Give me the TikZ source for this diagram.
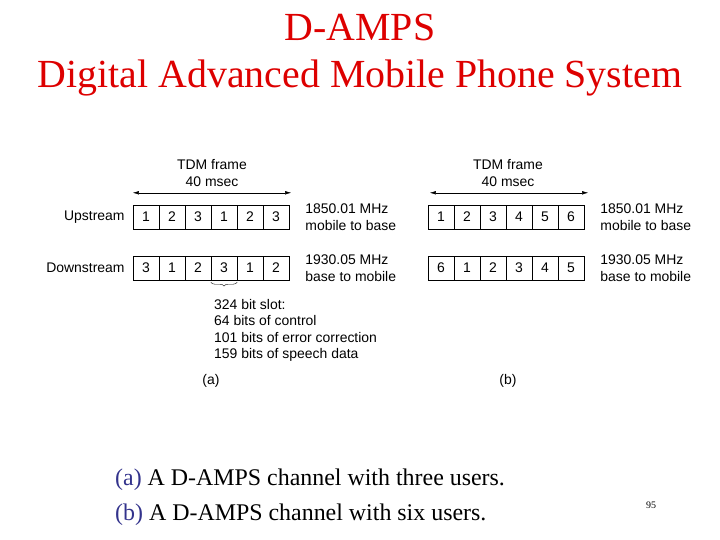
\documentclass[tikz,border=0pt]{standalone}
\usepackage{fontspec}
\setmainfont{Liberation Serif}
\setsansfont{Liberation Sans}
\usetikzlibrary{
  arrows.meta,
  positioning,
  decorations.pathreplacing
}
\definecolor{titlered}{RGB}{221,0,0}
\definecolor{capblue}{RGB}{51,51,140}

\begin{document}
\begin{tikzpicture}[x=1bp, y=-1bp,
    every node/.style={font=\sffamily\fontsize{14}{16.5}\selectfont, inner sep=1bp},
    slot/.style={draw, thin, minimum width=26bp, minimum height=24bp, inner sep=0pt}]
    \useasboundingbox (0,0) rectangle (720,540);

    % Title
    \node[font=\rmfamily\fontsize{40}{47}\selectfont, text=titlered, align=center] (title) at (360,55)
        {D-AMPS\\Digital Advanced Mobile Phone System};

    % (a) three users
    \foreach \lab [count=\i] in {1,2,3,1,2,3}
        \node[slot] (uA\i) at ({146+26*(\i-1)},217) {\lab};
    \foreach \lab [count=\i] in {3,1,2,3,1,2}
        \node[slot] (dA\i) at ({146+26*(\i-1)},268) {\lab};
    \node[left=7bp of uA1] (upA) {Upstream};
    \node[left=7bp of dA1] (downA) {Downstream};
    \node[right=15bp of uA6, align=left] (fuA) {1850.01 MHz\\mobile to base};
    \node[right=15bp of dA6, align=left] (fdA) {1930.05 MHz\\base to mobile};
    \coordinate (arAl) at ([yshift=12bp]uA1.north west);
    \coordinate (arAr) at ([yshift=12bp, xshift=2bp]uA6.north east);
    \draw[{Latex[length=6pt,width=3.5pt]}-{Latex[length=6pt,width=3.5pt]}] (arAl) -- (arAr);
    \node[align=center] (tdmA) at (212,173) {TDM frame\\40 msec};

    % slot brace
    \draw[decorate, decoration={brace, mirror, amplitude=4bp}] ([yshift=-2bp]dA4.south west) -- ([yshift=-2bp]dA4.south east);
    \node[anchor=north west, align=left] (slotA) at (213,298)
        {324 bit slot:\\64 bits of control\\101 bits of error correction\\159 bits of speech data};
    \node (labA) at (211,381) {(a)};

    % (b) six users
    \foreach \lab [count=\i] in {1,2,3,4,5,6}
        \node[slot] (uB\i) at ({441+26*(\i-1)},217) {\lab};
    \foreach \lab [count=\i] in {6,1,2,3,4,5}
        \node[slot] (dB\i) at ({441+26*(\i-1)},268) {\lab};
    \node[right=15bp of uB6, align=left] (fuB) {1850.01 MHz\\mobile to base};
    \node[right=15bp of dB6, align=left] (fdB) {1930.05 MHz\\base to mobile};
    \coordinate (arBl) at ([yshift=12bp, xshift=2bp]uB1.north west);
    \coordinate (arBr) at ([yshift=12bp, xshift=4bp]uB6.north east);
    \draw[{Latex[length=6pt,width=3.5pt]}-{Latex[length=6pt,width=3.5pt]}] (arBl) -- (arBr);
    \node[align=center] (tdmB) at (508,173) {TDM frame\\40 msec};
    \node (labB) at (508,381) {(b)};

    % Caption
    \node[anchor=base west, font=\rmfamily\fontsize{24}{28}\selectfont] (capA) at (114,485)
        {\textcolor{capblue}{(a)} A D-AMPS channel with three users.};
    \node[anchor=base west, font=\rmfamily\fontsize{24}{28}\selectfont] (capB) at (114,520)
        {\textcolor{capblue}{(b)} A D-AMPS channel with six users.};
    \node[font=\rmfamily\fontsize{10}{12}\selectfont] (page) at (651,505) {95};
\end{tikzpicture}
\end{document}
